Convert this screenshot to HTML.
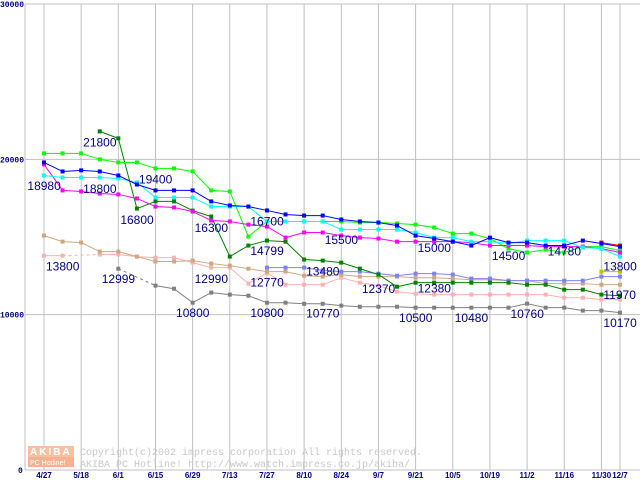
<!DOCTYPE html>
<html><head><meta charset="utf-8"><style>
body{margin:0;background:#fff;width:640px;height:480px;overflow:hidden}
svg{display:block;font-family:"Liberation Sans",sans-serif}
</style></head><body>
<svg id="chart" width="640" height="480"></svg>
<script>
const xLabels=["4/27","5/18","6/1","6/15","6/29","7/13","7/27","8/10","8/24","9/7","9/21","10/5","10/19","11/2","11/16","11/30","12/7"];
const xLabelIdx=[0,2,4,6,8,10,12,14,16,18,20,22,24,26,28,30,31];
const yTicks=[0,10000,20000,30000];
const seriesBlue=[19800,19220,19290,19220,18960,18380,18000,18000,18000,17290,17030,16960,16710,16450,16380,16380,16125,16000,15930,15740,15090,14900,14700,14450,14960,14640,14640,14450,14450,14770,14580,14380];
const seriesLime=[20380,20380,20380,20000,19800,19800,19415,19415,19220,18000,17930,15030,16000,16000,16000,16000,16000,15930,15930,15870,15800,15610,15220,15220,14900,14250,14000,14190,14000,14380,14380,14125];
const seriesDarkGreen=[null,null,null,21800,21350,16830,17290,17290,16700,16320,13740,14450,14770,14700,13550,13480,13350,12965,12580,11800,12060,12060,12060,12060,12060,12060,11930,11930,11610,11610,11290,11220];
const seriesCyan=[18960,18830,18830,18830,18770,18510,17540,17540,17540,16960,16960,16960,16000,16000,16000,16000,15480,15480,15480,15480,15290,14960,14960,14700,14700,14580,14770,14770,14770,14320,14250,13740];
const seriesMagenta=[19670,18000,17930,17800,17740,17480,16960,16900,16640,16060,16000,15800,15670,14960,15290,15290,15090,14960,14900,14700,14700,14700,14700,14640,14450,14450,14450,14380,14380,14380,14250,14000];
const seriesRed=[null,null,null,null,null,null,null,null,null,null,null,null,null,null,null,null,null,null,null,null,null,null,null,null,null,null,null,null,null,null,14640,14450];
const seriesTan=[15090,14700,14640,14060,14060,13740,13420,13420,13480,13290,13160,12960,12770,12770,12510,12450,12580,12450,12450,12450,12380,12380,12320,12250,12250,12190,12190,12000,12000,12000,11930,11930];
const seriesPink=[13800,13800,null,13870,13870,13740,13670,13670,13350,13030,13030,12000,12700,11930,11930,11930,12380,12060,11870,11480,11350,11290,11290,11290,11290,11290,11290,11290,11090,11090,10970,10970];
const seriesGray=[null,null,null,null,12960,null,11870,11670,10770,11420,11290,11220,10770,10770,10700,10700,10580,10510,10510,10510,10450,10450,10450,10450,10450,10450,10710,10450,10450,10260,10260,10130];
const seriesPeri=[null,null,null,null,null,null,null,null,null,null,null,null,13030,13030,13030,12840,12770,12770,12640,12510,12640,12640,12580,12320,12320,12190,12190,12190,12190,12190,12450,12450];
const seriesOlive=[null,null,null,null,null,null,null,null,null,null,null,null,null,null,null,null,null,null,null,null,null,null,null,null,null,null,null,null,null,null,12770,12770];
const annotTexts=["21800","18980","18800","19400","16800","16300","16700","14799","13800","12999","12990","12770","10800","10800","10770","13480","15500","12370","12380","10500","15000","10480","14500","10760","14780","13800","11970","10170"];
const annotIdx=[2,-1,2,5,4,8,11,11,0,3,8,11,7,11,14,14,15,17,20,19,20,22,24,25,27,30,30,30];
const annotVals=[21800,18980,18800,19400,16800,16300,16700,14799,13800,12999,12990,12770,10800,10800,10770,13480,15500,12370,12380,10500,15000,10480,14500,10760,14780,13800,11970,10170];

const NS="http://www.w3.org/2000/svg";
const svg=document.getElementById('chart');
const X0=44,DX=18.58,Y0=470,YS=466/30000;
function xs(i){return X0+i*DX;}
function ys(v){return Y0-v*YS;}
function mk(t,a,p){const e=document.createElementNS(NS,t);for(const k in a)e.setAttribute(k,a[k]);(p||svg).appendChild(e);return e;}

const grid=mk('g',{});


yTicks.forEach(v=>{if(v>0)mk('line',{x1:25,x2:640,y1:ys(v),y2:ys(v),stroke:'#c0c0c0','stroke-width':1},grid);});
xLabelIdx.forEach(i=>{mk('line',{x1:xs(i),x2:xs(i),y1:ys(30000),y2:Y0,stroke:'#c0c0c0','stroke-width':1},grid);});
mk('line',{x1:25,x2:25,y1:ys(30000),y2:Y0,stroke:'#c0c0c0'},grid);
mk('line',{x1:25,x2:640,y1:Y0,y2:Y0,stroke:'#c0c0c0'},grid);

const wm=mk('g',{});


mk('rect',{x:28,y:446,width:46,height:11,fill:'#f8c0a0'},wm);
mk('rect',{x:28,y:457,width:46,height:10,fill:'#f8b090'},wm);
let t=mk('text',{x:30,y:455,'font-size':10,fill:'#fff','font-weight':'bold','letter-spacing':'2'},wm);t.textContent='AKIBA';
t=mk('text',{x:30,y:465,'font-size':7,fill:'#fff'},wm);t.textContent='PC Hotline!';
t=mk('text',{x:80,y:455,'font-size':10,fill:'#c8c8c8','font-family':'Liberation Mono,monospace'},wm);t.textContent='Copyright(c)2002 impress corporation All rights reserved.';
t=mk('text',{x:80,y:467,'font-size':10,fill:'#c8c8c8','font-family':'Liberation Mono,monospace'},wm);t.textContent='AKIBA PC Hotline!  http://www.watch.impress.co.jp/akiba/';

yTicks.forEach(v=>{
  const e=mk('text',{x:v===0?18:0,y:ys(v)+3,'font-size':8,'font-weight':'bold',fill:'#000080','font-family':'Liberation Mono,monospace'});
  e.textContent=String(v);
  
  
});
xLabels.forEach((s,k)=>{
  const e=mk('text',{x:xs(xLabelIdx[k]),y:478,'font-size':8,'font-weight':'bold',fill:'#000080','text-anchor':'middle'});
  e.textContent=s;
  
  
});

function drawSeries(arr,color,name){
  const g=mk('g',{});
  
  
  let prev=-1;
  for(let i=0;i<arr.length;i++){
    if(arr[i]==null)continue;
    if(prev>=0){
      const dash=(i-prev>1)?'3,3':'none';
      mk('line',{x1:xs(prev),y1:ys(arr[prev]),x2:xs(i),y2:ys(arr[i]),stroke:color,'stroke-width':1,'stroke-dasharray':dash},g);
    }
    prev=i;
  }
  arr.forEach((v,i)=>{if(v!=null){mk('rect',{x:xs(i)-2,y:ys(v)-2,width:4,height:4,fill:color},g);}});
}
drawSeries(seriesGray,'#808080','series-gray');
drawSeries(seriesPink,'#ffb0b0','series-pink');
drawSeries(seriesTan,'#d0a880','series-tan');
drawSeries(seriesPeri,'#8080ff','series-periwinkle');
drawSeries(seriesOlive,'#c0c000','series-olive');
drawSeries(seriesDarkGreen,'#008000','series-dark-green');
drawSeries(seriesLime,'#00ff00','series-lime');
drawSeries(seriesMagenta,'#ff00ff','series-magenta');
drawSeries(seriesCyan,'#00ffff','series-cyan');
drawSeries(seriesRed,'#ff0000','series-red');
drawSeries(seriesBlue,'#0000ff','series-blue');

annotTexts.forEach((s,k)=>{
  const e=mk('text',{x:xs(annotIdx[k])+2,y:ys(annotVals[k])+15,'font-size':12,fill:'#000080'});
  e.textContent=s;
  
  
});
</script>
</body></html>
